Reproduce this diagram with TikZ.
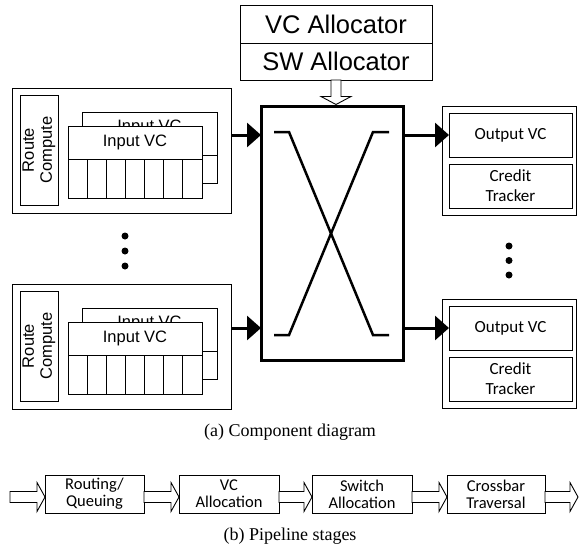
\documentclass[tikz,border=0pt]{standalone}
\usepackage{fontspec}
\setmainfont{Liberation Serif}
\newfontfamily\arialf{Liberation Sans}
\newfontfamily\calib{Carlito}
\usetikzlibrary{arrows.meta,calc}
\newcommand\harrow[2]{%
  \draw[hollow] let \p1=(#1), \p2=(#2) in
    (\x1,{\y1-3pt+5.5pt}) -- ({\x2-8pt},{\y1-3pt+5.5pt}) -- ({\x2-8pt},{\y1-3pt+14.5pt}) --
    (\x2,{\y1-3pt}) -- ({\x2-8pt},{\y1-3pt-14.5pt}) -- ({\x2-8pt},{\y1-3pt-5.5pt}) --
    (\x1,{\y1-3pt-5.5pt}) -- cycle;}
\begin{document}
\begin{tikzpicture}[x=1pt,y=-1pt,
  box/.style={draw=black,line width=0.9pt,fill=white,inner sep=0pt,outer sep=0pt},
  atxt/.style={font=\arialf\fontsize{16.5}{18}\selectfont},
  btxt/.style={font=\arialf\fontsize{25.5}{27}\selectfont},
  ctxt/.style={font=\calib\fontsize{17}{20}\selectfont,align=center},
  ptxt/.style={font=\calib\fontsize{16.5}{17}\selectfont,align=center},
  captxt/.style={font=\fontsize{18}{20}\selectfont},
  solidarrow/.style={line width=3pt,-{Triangle[length=14pt,width=24pt]}},
  hollow/.style={draw=black,line width=0.9pt,fill=white},
  xline/.style={line width=2.5pt},
  dot/.style={circle,fill=black,inner sep=0pt,minimum size=7pt}]
\useasboundingbox (0,0) rectangle (579,552);

% allocators
\node[box,btxt,minimum width=192,minimum height=38] (vca) at (336,24) {VC Allocator};
\node[box,btxt,minimum width=192,minimum height=37] (swa) at (336,61.5) {SW Allocator};

% crossbar
\node[draw=black,line width=3pt,fill=white,inner sep=0pt,outer sep=0pt,minimum width=142,minimum height=254] (xb) at (332,233) {};
\draw[xline] ($(xb.center)+(-58,-101)$) -- ($(xb.center)+(-43,-101)$) -- ($(xb.center)+(41,102)$) -- ($(xb.center)+(57,102)$);
\draw[xline] ($(xb.center)+(-58,102)$) -- ($(xb.center)+(-43,102)$) -- ($(xb.center)+(41,-101)$) -- ($(xb.center)+(57,-101)$);

% input blocks
\foreach \k/\dy in {1/0,2/196}{
  \node[box,minimum width=219,minimum height=125] (in\k) at (121.5,150.5+\dy) {};
  \node[box,atxt,align=center,rotate=90,minimum width=110,minimum height=38] (rc\k) at (39,150+\dy) {Route\\Compute};
  \node[box,atxt,text depth=15pt,minimum width=135,minimum height=43] (bivt\k) at (149.5,133.5+\dy) {Input VC};
  \node[box,minimum width=135,minimum height=28] (bivb\k) at (149.5,169+\dy) {};
  \node[box,atxt,minimum width=134,minimum height=33] (fivt\k) at (135,142.5+\dy) {Input VC};
  \foreach \i in {1,...,7}{
    \node[box,minimum width=19.143,minimum height=39] (cell\k\i) at ({68+19.143*(\i-0.5)},178.5+\dy) {};
  }
}

% output blocks
\foreach \k/\dy in {1/0,2/193}{
  \node[box,minimum width=134,minimum height=109] (out\k) at (509,160.5+\dy) {};
  \node[box,ctxt,minimum width=123,minimum height=44] (ov\k) at (510.5,135+\dy) {Output VC};
  \node[box,ctxt,minimum width=123,minimum height=44] (ct\k) at (510.5,186+\dy) {Credit\\Tracker};
}

% arrows
\foreach \k in {1,2}{
  \draw[solidarrow] (in\k.east |- ov\k.west) -- (xb.west |- ov\k.west);
  \draw[solidarrow] (xb.east |- ov\k.west) -- (ov\k.west);
}
\draw[hollow] let \p1=(swa.south), \p2=(xb.north) in
  ({\x1-5pt},\y1) -- ({\x1-5pt},{\y2+1.5pt+8pt}) -- ({\x1-15pt},{\y2+1.5pt+8pt}) -- (\x1,{\y2+1.5pt}) --
  ({\x1+15pt},{\y2+1.5pt+8pt}) -- ({\x1+5pt},{\y2+1.5pt+8pt}) -- ({\x1+5pt},\y1) -- cycle;

% dots
\node[dot] (dl1) at (125,236) {};
\node[dot] (dl2) at (125,251) {};
\node[dot] (dl3) at (125,266) {};
\node[dot] (dr1) at (509,246) {};
\node[dot] (dr2) at (509,260.5) {};
\node[dot] (dr3) at (509,275) {};

% caption a
\node[captxt] (capa) at (290,432) {(a) Component diagram};

% pipeline
\node[box,ptxt,minimum width=99,minimum height=38] (p1) at (94.5,494) {Routing/\\Queuing};
\node[box,ptxt,minimum width=100,minimum height=38] (p2) at (229,494) {VC\\Allocation};
\node[box,ptxt,minimum width=100,minimum height=38] (p3) at (362,494) {Switch\\Allocation};
\node[box,ptxt,minimum width=98,minimum height=38] (p4) at (496,494) {Crossbar\\Traversal};
\coordinate (pin) at (10,494);
\coordinate (pout) at (578,494);
\harrow{pin}{p1.west}
\harrow{p1.east}{p2.west}
\harrow{p2.east}{p3.west}
\harrow{p3.east}{p4.west}
\harrow{p4.east}{pout}

\node[captxt] (capb) at (290,536) {(b) Pipeline stages};
\end{tikzpicture}
\end{document}
